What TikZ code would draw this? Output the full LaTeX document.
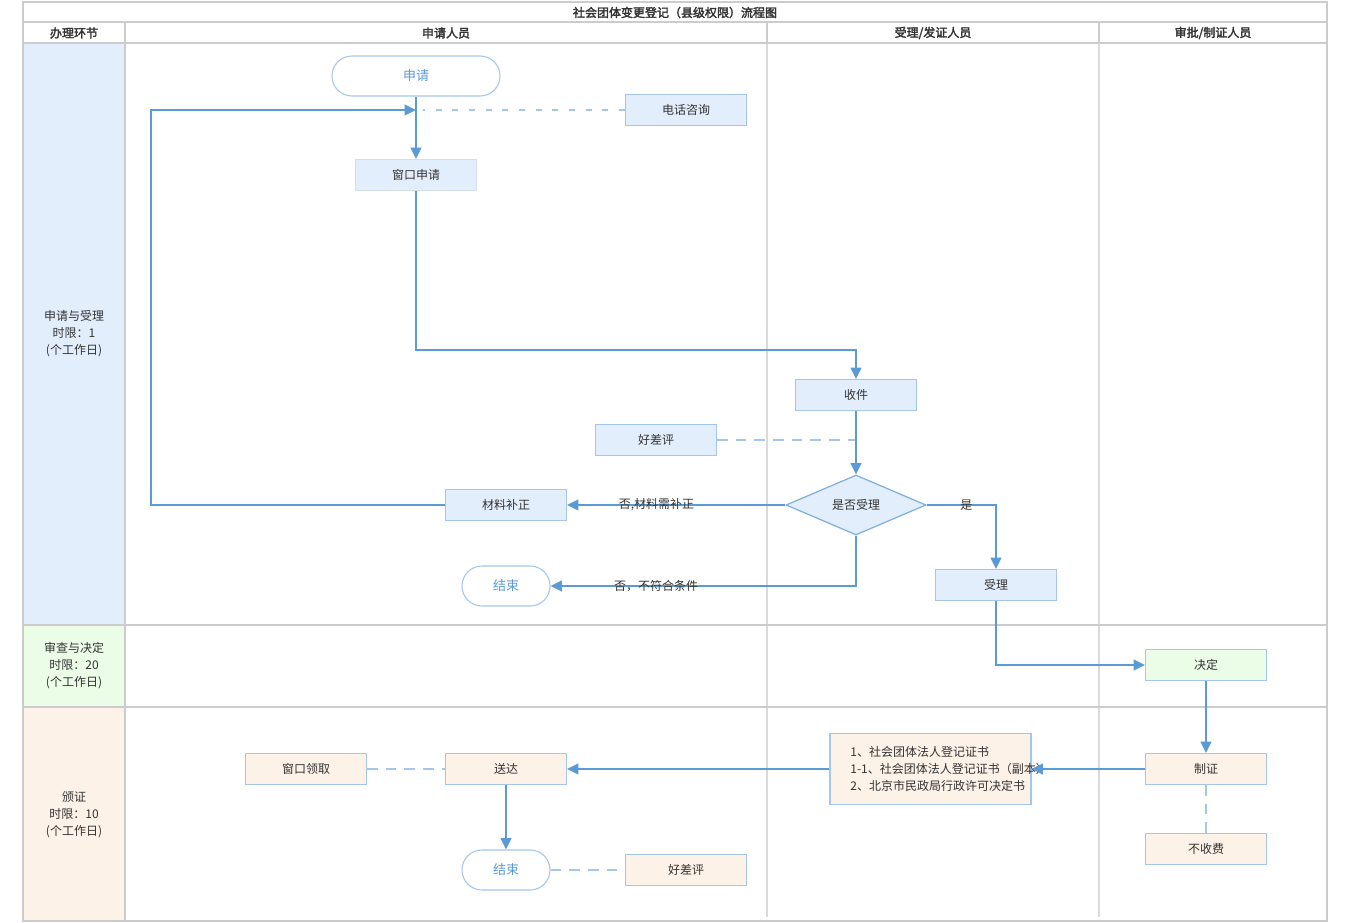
\documentclass[tikz,border=0pt]{standalone}
\usepackage{fontspec}
\setmainfont{Noto Sans CJK SC}
\newfontfamily\boldcjk{Noto Sans CJK SC}[FakeBold=2.5]
\usetikzlibrary{arrows.meta,shapes.geometric}
\definecolor{flowblue}{HTML}{5B9BD5}
\definecolor{nodeborder}{HTML}{A4C6EA}
\definecolor{grayborder}{HTML}{D6DEE8}
\definecolor{fillblue}{HTML}{E3EEFD}
\definecolor{fillgreen}{HTML}{EBFDE6}
\definecolor{fillorange}{HTML}{FDF2E7}
\definecolor{gridgray}{HTML}{CCCCCC}
\definecolor{gridlight}{HTML}{DADADA}
\definecolor{txt}{HTML}{333333}
\definecolor{dashblue}{HTML}{A4C6EA}
\begin{document}
\begin{tikzpicture}[x=0.75pt,y=-0.75pt,
  font=\fontsize{9pt}{12.75pt}\selectfont,
  every node/.style={text=txt},
  box/.style={draw=nodeborder, line width=0.8pt, minimum width=90.75pt, minimum height=23.25pt, inner sep=0pt},
  bluebox/.style={box, fill=fillblue},
  greenbox/.style={box, fill=fillgreen},
  orangebox/.style={box, fill=fillorange},
  term/.style={draw=nodeborder, line width=0.8pt, fill=white, rounded corners=14.9pt, minimum height=30pt, inner sep=0pt, text=flowblue, font=\fontsize{9.75pt}{12pt}\selectfont},
  decision/.style={diamond, draw=flowblue!80, line width=0.9pt, fill=fillblue, minimum width=105pt, minimum height=45pt, inner sep=0pt},
  flow/.style={draw=flowblue, line width=1.4pt, -{Triangle[length=8.5pt,width=8pt]}},
  dashsparse/.style={draw=dashblue, line width=1.4pt, dash pattern=on 4.5pt off 8pt},
  dashline/.style={draw=dashblue, line width=1.4pt, dash pattern=on 8pt off 6pt},
  lbl/.style={inner sep=1pt},
  headtext/.style={font=\boldcjk\fontsize{9pt}{12pt}\selectfont},
  lanetext/.style={align=center}
]
\useasboundingbox (0,0) rectangle (1350,923);
% lane fills
\fill[fillblue] (23,43) rectangle (125,625);
\fill[fillgreen] (23,625) rectangle (125,707);
\fill[fillorange] (23,707) rectangle (125,921);
% grid
\draw[gridlight, line width=1.1pt] (767,43) -- (767,917);
\draw[gridlight, line width=1.1pt] (1099,43) -- (1099,917);
\draw[gridgray, line width=1.3pt] (767,22) -- (767,43);
\draw[gridgray, line width=1.3pt] (1099,22) -- (1099,43);
\draw[gridgray, line width=1.3pt] (125,22) -- (125,921);
\draw[gridgray, line width=1.3pt] (23,22) -- (1327,22);
\draw[gridgray, line width=1.3pt] (23,43) -- (1327,43);
\draw[gridgray, line width=1.3pt] (23,625) -- (1327,625);
\draw[gridgray, line width=1.3pt] (23,707) -- (1327,707);
\draw[gridgray, line width=1.5pt] (23,2) rectangle (1327,921);
% headers
\node[headtext] (title) at (675,12.5) {社会团体变更登记（县级权限）流程图};
\node[headtext] (h0) at (74,33) {办理环节};
\node[headtext] (h1) at (446,33) {申请人员};
\node[headtext] (h2) at (933,33) {受理/发证人员};
\node[headtext] (h3) at (1213,33) {审批/制证人员};
% lane labels
\node[lanetext] (lane1) at (74,334) {申请与受理\\时限：1\\(个工作日)};
\node[lanetext] (lane2) at (74,666) {审查与决定\\时限：20\\(个工作日)};
\node[lanetext] (lane3) at (74,815) {颁证\\时限：10\\(个工作日)};
% nodes lane 1
\node[term, minimum width=126pt] (apply) at (416,76) {申请};
\node[bluebox] (phone) at (686,110) {电话咨询};
\node[bluebox, draw=grayborder] (win) at (416,175) {窗口申请};
\node[bluebox] (recv) at (856,395) {收件};
\node[bluebox] (rate1) at (656,440) {好差评};
\node[decision] (dec) at (856,505) {是否受理};
\node[bluebox] (fix) at (506,505) {材料补正};
\node[bluebox] (accept) at (996,585) {受理};
\node[term, minimum width=66pt] (end1) at (506,586) {结束};
% lane 2
\node[greenbox] (decide) at (1206,665) {决定};
% lane 3
\node[orangebox] (cert) at (1206,769) {制证};
\node[orangebox] (nofee) at (1206,849) {不收费};
\node[orangebox, minimum width=150.75pt, minimum height=53.25pt] (doc) at (930.5,769) {};
\node[anchor=west, align=left, inner sep=0pt] (doctext) at ([xshift=15.5pt]doc.west) {1、社会团体法人登记证书\\1-1、社会团体法人登记证书（副本）\\2、北京市民政局行政许可决定书};
\node[orangebox] (deliver) at (506,769) {送达};
\node[orangebox] (pickup) at (306,769) {窗口领取};
\node[term, minimum width=66pt] (end2) at (506,870) {结束};
\node[orangebox] (rate2) at (686,870) {好差评};
% coordinates
\coordinate (merge) at (416,110);
\coordinate (loopbl) at (151,505);
\coordinate (looptl) at (151,110);
\coordinate (wc1) at (416,350);
\coordinate (wc2) at (856,350);
% connectors
\draw[dashsparse] (phone.west) -- ([xshift=5pt]merge);
\draw[flow] (apply.south) -- (win.north);
\draw[flow] (fix.west) -- (loopbl) -- (looptl) -- (merge);
\draw[flow] (win.south) -- (wc1) -- (wc2) -- (recv.north);
\draw[dashline] (rate1.east) -- (rate1.east -| recv);
\draw[flow] (recv.south) -- (dec.north);
\draw[flow] (dec.west) -- node[lbl, pos=0.59] {否,材料需补正} (fix.east);
\draw[flow] (dec.south) |- node[lbl, pos=0.827] {否，不符合条件} (end1.east);
\draw[flow] (dec.east) -| node[lbl, pos=0.286] {是} (accept.north);
\draw[flow] (accept.south) |- (decide.west);
\draw[flow] (decide.south) -- (cert.north);
\draw[flow] (cert.west) -- (doc.east);
\draw[flow] (doc.west) -- (deliver.east);
\draw[flow] (deliver.south) -- (end2.north);
\draw[dashline] (pickup.east) -- (deliver.west);
\draw[dashline] (end2.east) -- (rate2.west);
\draw[dashline] (cert.south) -- (nofee.north);
\end{tikzpicture}
\end{document}
